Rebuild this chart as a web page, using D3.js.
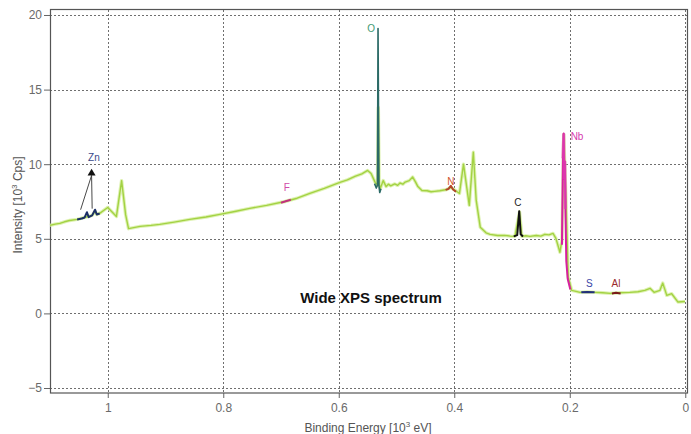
<!DOCTYPE html>
<html>
<head>
<meta charset="utf-8">
<script src="https://cdn.jsdelivr.net/npm/d3@7/dist/d3.min.js"></script>
<style>
  html, body { margin: 0; padding: 0; background: #fff; }
  svg { display: block; font-family: "Liberation Sans", Arial, sans-serif; }
</style>
</head>
<body>
<svg id="chart" width="691" height="434"></svg>
<script>
// Wide XPS survey spectrum: binding energy (10^3 eV) vs intensity (10^3 counts/s)
const spectrum = [
  [1.100, 5.90], [1.091, 5.98], [1.083, 6.03], [1.075, 6.14], [1.066, 6.23],
  [1.053, 6.30], [1.040, 6.43], [1.027, 6.57], [1.022, 6.84], [1.019, 6.63],
  [1.014, 6.70], [1.000, 7.10], [0.985, 6.50], [0.976, 8.90], [0.969, 6.60],
  [0.964, 5.68], [0.944, 5.83], [0.925, 5.90], [0.910, 5.97], [0.885, 6.12],
  [0.858, 6.30], [0.830, 6.46], [0.806, 6.64], [0.780, 6.83], [0.754, 7.04],
  [0.725, 7.24], [0.693, 7.50], [0.672, 7.72], [0.650, 8.04], [0.625, 8.38],
  [0.598, 8.78], [0.585, 8.95], [0.572, 9.18], [0.560, 9.35], [0.550, 9.58],
  [0.544, 9.38], [0.537, 8.78], [0.533, 8.60], [0.5315, 13.8], [0.530, 8.70],
  [0.528, 8.38], [0.523, 8.90], [0.518, 8.50], [0.514, 8.66], [0.510, 8.55],
  [0.503, 8.68], [0.498, 8.58], [0.494, 8.74], [0.489, 8.66], [0.485, 8.80],
  [0.478, 8.90], [0.472, 9.14], [0.467, 8.80], [0.463, 8.50], [0.456, 8.24],
  [0.447, 8.22], [0.440, 8.15], [0.434, 8.18], [0.425, 8.22], [0.413, 8.30],
  [0.406, 8.45], [0.398, 8.24], [0.391, 8.04], [0.384, 10.0], [0.374, 7.24],
  [0.367, 10.8], [0.362, 7.57], [0.355, 5.78], [0.345, 5.40], [0.338, 5.30],
  [0.325, 5.22], [0.313, 5.23], [0.303, 5.18], [0.295, 5.16], [0.287, 6.80],
  [0.283, 5.16], [0.276, 5.20], [0.269, 5.16], [0.258, 5.22], [0.250, 5.18],
  [0.243, 5.30], [0.236, 5.26], [0.229, 5.36], [0.224, 5.03], [0.217, 4.10],
  [0.2135, 4.90], [0.2105, 12.0], [0.2066, 7.60], [0.2026, 2.43], [0.1967, 1.54],
  [0.182, 1.41], [0.170, 1.44], [0.156, 1.41], [0.143, 1.38], [0.130, 1.34],
  [0.113, 1.38], [0.096, 1.41], [0.082, 1.45], [0.070, 1.54], [0.061, 1.68],
  [0.054, 1.41], [0.044, 1.54], [0.039, 2.03], [0.032, 1.21], [0.0235, 1.32],
  [0.0126, 0.76], [0.0005, 0.80]
];

// Element regions highlighted on top of the survey line
const znRegion = [[1.053, 6.30], [1.045, 6.36], [1.040, 6.43], [1.036, 6.78], [1.033, 6.45], [1.027, 6.57], [1.022, 6.95], [1.019, 6.63], [1.014, 6.70]];
const fRegion  = [[0.700, 7.42], [0.692, 7.52], [0.683, 7.62]];
const oRegion  = [[0.538, 8.70], [0.535, 8.40], [0.533, 8.60], [0.532, 19.1], [0.5305, 8.60], [0.529, 8.10], [0.527, 8.35]];
const nRegion  = [[0.415, 8.28], [0.410, 8.35], [0.406, 8.55], [0.402, 8.30], [0.397, 8.15]];
const cRegion  = [[0.297, 5.16], [0.291, 5.25], [0.2875, 6.85], [0.285, 5.30], [0.281, 5.16]];
const nbRegion = [[0.2135, 4.60], [0.2118, 10.4], [0.2105, 12.05], [0.2098, 9.0], [0.2085, 10.2], [0.2075, 7.0], [0.2060, 3.5], [0.2035, 2.30], [0.1990, 1.60]];
const sRegion  = [[0.180, 1.41], [0.170, 1.44], [0.157, 1.41]];
const alRegion = [[0.127, 1.34], [0.120, 1.38], [0.112, 1.34]];

const regions = [
  { name: "Zn", pts: znRegion, color: "#1c2f66" },
  { name: "F",  pts: fRegion,  color: "#c2307e" },
  { name: "O",  pts: oRegion,  color: "#2b6a66" },
  { name: "N",  pts: nRegion,  color: "#b2452c" },
  { name: "C",  pts: cRegion,  color: "#111111" },
  { name: "Nb", pts: nbRegion, color: "#d81fa0" },
  { name: "S",  pts: sRegion,  color: "#22307a" },
  { name: "Al", pts: alRegion, color: "#7a1a1a" }
];

// Peak labels: [text, energy, intensity, colour]
const peakLabels = [
  ["Zn", 1.024, 10.2, "#3a4a8a"],
  ["O",  0.544, 18.85, "#3e9a72"],
  ["F",  0.690, 8.2,  "#d04aa8"],
  ["N",  0.406, 8.6,  "#d0552e"],
  ["C",  0.290, 7.2,  "#222222"],
  ["S",  0.166, 1.8,  "#3a46a8"],
  ["Al", 0.120, 1.75, "#9a2a2a"]
];
const nbLabel = ["Nb", 0.1985, 11.6, "#d63aae"];

const xTicks = [1, 0.8, 0.6, 0.4, 0.2, 0];
const yTicks = [-5, 0, 5, 10, 15, 20];

const svg = d3.select("#chart");
const x = d3.scaleLinear().domain([1.1, -0.003]).range([50, 687]);
const y = d3.scaleLinear().domain([-5.335, 20.335]).range([393, 10]);

// Dotted grid
const grid = svg.append("g").attr("stroke", "#6f6f6f").attr("stroke-width", 1)
  .attr("stroke-dasharray", "2,2");
grid.selectAll("line.h").data(yTicks).join("line")
  .attr("x1", x.range()[0]).attr("x2", x.range()[1])
  .attr("y1", d => Math.round(y(d)) + 0.5).attr("y2", d => Math.round(y(d)) + 0.5);
grid.selectAll("line.v").data(xTicks).join("line")
  .attr("x1", d => Math.round(x(d)) + 0.5).attr("x2", d => Math.round(x(d)) + 0.5)
  .attr("y1", y.range()[1]).attr("y2", y.range()[0]);

// Axes
const axisFont = g => g.selectAll("text").attr("fill", "#6a6a6a").attr("font-size", 12)
  .attr("font-family", "'Liberation Sans', Arial, sans-serif");
const xAxis = svg.append("g").attr("transform", "translate(0,393)")
  .call(d3.axisBottom(x).tickValues(xTicks).tickFormat(d3.format("~g")).tickSize(5).tickPadding(5))
  .call(axisFont);
const yAxis = svg.append("g").attr("transform", "translate(50,0)")
  .call(d3.axisLeft(y).tickValues(yTicks).tickSize(6).tickPadding(2))
  .call(axisFont);
[xAxis, yAxis].forEach(a => {
  a.select(".domain").remove();
  a.selectAll(".tick line").attr("stroke", "#666");
});

// Frame
svg.append("rect").attr("x", 50.5).attr("y", 9.5).attr("width", 637).attr("height", 383.5)
  .attr("fill", "none").attr("stroke", "#555").attr("stroke-width", 1.2);

// Axis titles
svg.append("text").attr("x", 368).attr("y", 432).attr("text-anchor", "middle")
  .attr("font-size", 12).attr("fill", "#555").text("Binding Energy [10")
  .append("tspan").attr("dy", -5).attr("font-size", 8).text("3")
  .select(function () { return this.parentNode; })
  .append("tspan").attr("dy", 5).text(" eV]");
svg.append("text").attr("transform", "translate(22,205) rotate(-90)")
  .attr("text-anchor", "middle").attr("font-size", 12).attr("fill", "#555")
  .text("Intensity [10")
  .append("tspan").attr("dy", -5).attr("font-size", 8).text("3")
  .select(function () { return this.parentNode; })
  .append("tspan").attr("dy", 5).text(" Cps]");

// Survey line
const line = d3.line().x(d => x(d[0])).y(d => y(d[1]));
svg.append("path").datum(spectrum).attr("d", line)
  .attr("fill", "none").attr("stroke", "#d8f0a4").attr("stroke-width", 3.4)
  .attr("stroke-linejoin", "round").attr("opacity", 0.85);
svg.append("path").datum(spectrum).attr("d", line)
  .attr("fill", "none").attr("stroke", "#a3d243").attr("stroke-width", 1.4)
  .attr("stroke-linejoin", "round");

// Element regions
svg.append("g").selectAll("path").data(regions).join("path")
  .attr("d", d => line(d.pts)).attr("fill", "none")
  .attr("stroke", d => d.color).attr("stroke-width", d => d.name === "O" ? 1.6 : 2)
  .attr("stroke-linejoin", "round");
// Broader Nb band
svg.append("path").datum(nbRegion.slice(1, 6)).attr("d", line)
  .attr("fill", "none").attr("stroke", "#e040b0").attr("stroke-width", 3).attr("opacity", 0.7);

// Labels
svg.append("g").selectAll("text").data(peakLabels).join("text")
  .attr("x", d => x(d[1])).attr("y", d => y(d[2])).attr("text-anchor", "middle")
  .attr("font-size", 10).attr("fill", d => d[3]).text(d => d[0]);
svg.append("text").attr("x", x(nbLabel[1])).attr("y", y(nbLabel[2]))
  .attr("font-size", 10).attr("fill", nbLabel[3]).text(nbLabel[0]);

// Zn pointer arrows
const znArrowTip = [1.028, 9.7], znArrowBase = 9.25;
const znTargets = [[1.047, 6.95], [1.027, 7.02]];
svg.append("g").attr("stroke", "#333").attr("stroke-width", 0.9)
  .selectAll("line").data(znTargets).join("line")
  .attr("x1", d => x(d[0])).attr("y1", d => y(d[1]))
  .attr("x2", x(znArrowTip[0])).attr("y2", y(znArrowBase));
svg.append("path")
  .attr("d", `M${x(znArrowTip[0])},${y(znArrowTip[1])} L${x(znArrowTip[0]) - 4},${y(znArrowBase)} L${x(znArrowTip[0]) + 4},${y(znArrowBase)} Z`)
  .attr("fill", "#111");

// Chart caption
svg.append("text").attr("x", 371).attr("y", 303).attr("text-anchor", "middle")
  .attr("font-size", 15).attr("font-weight", "bold").attr("fill", "#111")
  .text("Wide XPS spectrum");
</script>
</body>
</html>
